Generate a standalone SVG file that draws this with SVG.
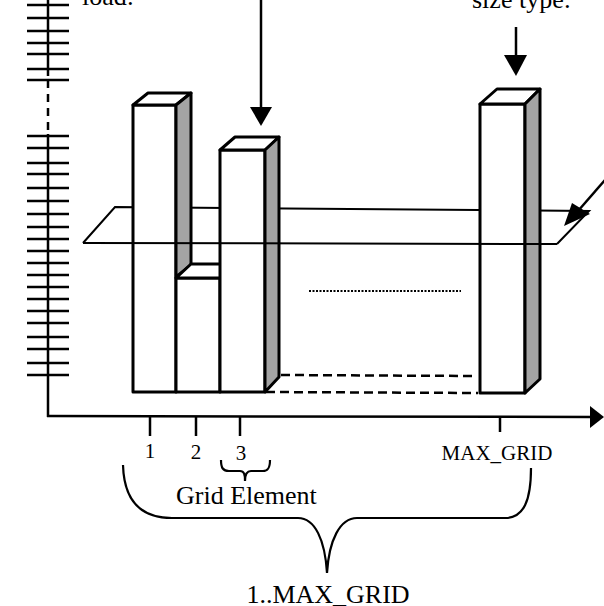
<svg xmlns="http://www.w3.org/2000/svg" width="604" height="606" viewBox="0 0 604 606">
<style>
.ax{stroke:#000;stroke-width:2.5;fill:none}
.tk{stroke:#000;stroke-width:2.5}
.bar{stroke:#000;stroke-width:3;fill:#fff;stroke-linejoin:round}
.side{stroke:#000;stroke-width:3;fill:#a4a4a4;stroke-linejoin:round}
.pl{stroke:#000;stroke-width:2;fill:none}
.dash{stroke:#000;stroke-width:2.5;stroke-dasharray:9 5;fill:none}
.dot{stroke:#000;stroke-width:2;stroke-dasharray:2 1.5;fill:none}
.br{stroke:#000;stroke-width:2.2;fill:none}
.t{font-family:"Liberation Serif","Times New Roman",serif;fill:#000}
.big{font-size:26px}
.sm{font-size:21px}
</style>
<defs>
<marker id="ah" markerWidth="10" markerHeight="10" refX="9" refY="5" orient="auto" markerUnits="userSpaceOnUse" viewBox="0 0 10 10">
<path d="M0,0 L10,5 L0,10 Z" fill="#000"/>
</marker>
</defs>

<g id="y-axis">
<line class="ax" x1="48" y1="0" x2="48" y2="76"/>
<line class="ax" x1="48" y1="80" x2="48" y2="134" stroke-dasharray="8 6"/>
<line class="ax" x1="48" y1="134" x2="48" y2="417"/>
<g class="tk">
<line x1="27" y1="5" x2="69" y2="5"/><line x1="27" y1="18" x2="69" y2="18"/><line x1="27" y1="31" x2="69" y2="31"/><line x1="27" y1="43" x2="69" y2="43"/><line x1="27" y1="54" x2="69" y2="54"/><line x1="27" y1="69" x2="69" y2="69"/><line x1="27" y1="80" x2="69" y2="80"/>
<line x1="27" y1="136" x2="69" y2="136"/><line x1="27" y1="148" x2="69" y2="148"/><line x1="27" y1="163" x2="69" y2="163"/><line x1="27" y1="174" x2="69" y2="174"/><line x1="27" y1="188" x2="69" y2="188"/><line x1="27" y1="201" x2="69" y2="201"/><line x1="27" y1="214" x2="69" y2="214"/><line x1="27" y1="227" x2="69" y2="227"/><line x1="27" y1="239" x2="69" y2="239"/><line x1="27" y1="251" x2="69" y2="251"/><line x1="27" y1="263" x2="69" y2="263"/><line x1="27" y1="275" x2="69" y2="275"/><line x1="27" y1="287" x2="69" y2="287"/><line x1="27" y1="299" x2="69" y2="299"/><line x1="27" y1="311" x2="69" y2="311"/><line x1="27" y1="323" x2="69" y2="323"/><line x1="27" y1="337" x2="69" y2="337"/><line x1="27" y1="349" x2="69" y2="349"/><line x1="27" y1="363" x2="69" y2="363"/><line x1="27" y1="375" x2="69" y2="375"/>
</g>
</g>

<g id="x-axis">
<line class="ax" x1="47" y1="416" x2="593" y2="417"/>
<path d="M590,406 L604,417 L590,428 Z" fill="#000"/>
<g class="tk">
<line x1="150" y1="416" x2="150" y2="436"/>
<line x1="196" y1="416" x2="196" y2="436"/>
<line x1="240" y1="416" x2="240" y2="436"/>
<line x1="500" y1="417" x2="500" y2="432"/>
</g>
</g>

<g id="plane-back">
<polyline class="pl" points="83,243 115,207 589,211 557,244"/>
</g>

<g id="bar-1">
<rect class="bar" x="133" y="105" width="43" height="287"/>
<polygon class="bar" points="133,105 148,93 191,93 176,105"/>
<polygon class="side" points="176,105 191,93 191,265 176,277"/>
</g>

<g id="bar-2">
<rect class="bar" x="176" y="278" width="44" height="114"/>
<polygon class="bar" points="176,278 191,264 234,264 220,278"/>
</g>

<g id="bar-3">
<rect class="bar" x="220" y="150" width="45" height="242"/>
<polygon class="bar" points="220,150 235,137 279,137 265,150"/>
<polygon class="side" points="265,150 279,137 279,377 265,392"/>
</g>

<g id="bar-max">
<rect class="bar" x="480" y="104" width="45" height="289"/>
<polygon class="bar" points="480,104 497,89 540,89 525,104"/>
<polygon class="side" points="525,104 540,89 540,379 525,393"/>
</g>

<g id="floor-lines">
<line class="dash" x1="281" y1="375" x2="474" y2="376"/>
<line class="dash" x1="266" y1="392" x2="478" y2="393"/>
<line class="dot" x1="309" y1="291" x2="461" y2="291"/>
</g>

<g id="plane-front">
<line class="pl" x1="83" y1="243" x2="557" y2="244"/>
</g>

<g id="connectors">
<line x1="261" y1="0" x2="261" y2="110" stroke="#000" stroke-width="2.5"/>
<path d="M250,107 L272,107 L261,126 Z" fill="#000"/>
<line x1="516" y1="27" x2="516" y2="58" stroke="#000" stroke-width="2.5"/>
<path d="M504,55 L527,55 L516,76 Z" fill="#000"/>
<line x1="605" y1="180" x2="578" y2="211" stroke="#000" stroke-width="2.5"/>
<path d="M564,226 L572,203 L590,214 Z" fill="#000"/>
</g>

<g id="braces">
<path class="br" d="M221,460 C221,468 223,471 229,471 L240,471 C244,471 245,474 245,481 C245,474 247,471 251,471 L263,471 C268,471 270,468 270,460"/>
<path class="br" d="M123,465 C124,500 140,518 172,518 L298,518 C315,518 325,540 327,573 C329,540 340,518 357,518 L505,518 C524,518 531,500 531,468"/>
</g>

<g id="labels">
<text class="t big" x="82" y="5">load:</text>
<text class="t big" x="472" y="8">size type:</text>
<text class="t sm" x="150" y="458" text-anchor="middle">1</text>
<text class="t sm" x="196" y="459" text-anchor="middle">2</text>
<text class="t sm" x="241" y="460" text-anchor="middle">3</text>
<text class="t sm" x="497" y="460" text-anchor="middle">MAX_GRID</text>
<text class="t big" x="176" y="504">Grid Element</text>
<text class="t big" x="328" y="603" text-anchor="middle">1..MAX_GRID</text>
</g>
</svg>
